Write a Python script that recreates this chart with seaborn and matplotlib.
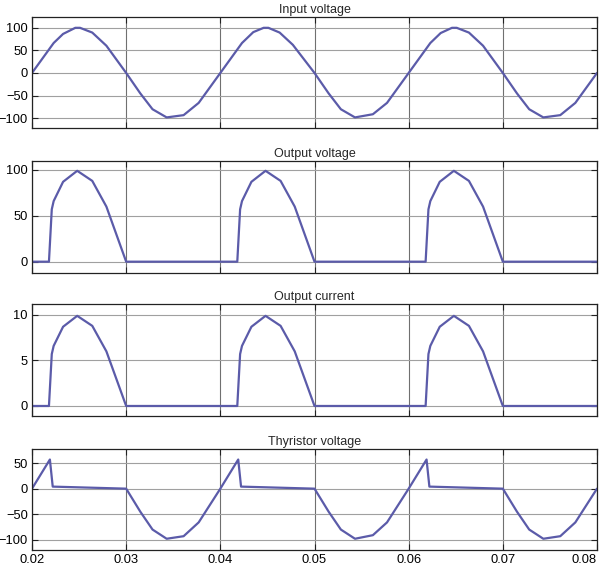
import numpy as np
import pandas as pd
import matplotlib
matplotlib.use("Agg")
import matplotlib.pyplot as plt
import matplotlib.transforms as mtransforms
import seaborn as sns

# ---------------- data ----------------
vin_t = [0.0200, 0.0223, 0.0233, 0.0246, 0.0251, 0.0264, 0.0279, 0.0300,
         0.0315, 0.0328, 0.0343, 0.0361, 0.0377, 0.0400,
         0.0423, 0.0435, 0.0446, 0.0451, 0.0463, 0.0477, 0.0500,
         0.0515, 0.0528, 0.0543, 0.0562, 0.0577, 0.0600,
         0.0623, 0.0634, 0.0646, 0.0651, 0.0664, 0.0679, 0.0700,
         0.0715, 0.0728, 0.0743, 0.0761, 0.0777, 0.0800]
vin_v = [0, 66, 86, 99.5, 99.5, 89, 60, 0,
         -45, -80, -98, -93, -66, 0,
         66, 90, 99.5, 99.5, 89, 62, 0,
         -45, -80, -98, -91, -66, 0,
         66, 88, 99.5, 99.5, 89, 60, 0,
         -45, -80, -98, -93, -66, 0]

vout_t = [0.0200, 0.0218, 0.0221, 0.0223, 0.0233, 0.0248, 0.0264, 0.0279, 0.0300,
          0.0418, 0.0421, 0.0423, 0.0433, 0.0448, 0.0464, 0.0479, 0.0500,
          0.0618, 0.0621, 0.0623, 0.0633, 0.0648, 0.0664, 0.0679, 0.0700,
          0.0800]
vout_v = [0, 0, 57, 66, 87, 99, 88, 60, 0,
          0, 57, 66, 87, 99, 88, 60, 0,
          0, 57, 66, 87, 99, 88, 60, 0,
          0]

iout_t = vout_t
iout_v = [0, 0, 5.7, 6.6, 8.7, 9.9, 8.8, 6.0, 0,
          0, 5.7, 6.6, 8.7, 9.9, 8.8, 6.0, 0,
          0, 5.7, 6.6, 8.7, 9.9, 8.8, 6.0, 0,
          0]

vth_t = [0.0200, 0.0219, 0.0222, 0.0300,
         0.0315, 0.0328, 0.0343, 0.0361, 0.0377, 0.0400,
         0.0419, 0.0422, 0.0500,
         0.0515, 0.0528, 0.0543, 0.0562, 0.0577, 0.0600,
         0.0619, 0.0622, 0.0700,
         0.0715, 0.0728, 0.0743, 0.0761, 0.0777, 0.0800]
vth_v = [0, 57, 4, 0,
         -45, -80, -98, -93, -66, 0,
         57, 4, 0,
         -45, -80, -98, -91, -66, 0,
         57, 4, 0,
         -45, -80, -98, -93, -66, 0]

titles = ["Input voltage", "Output voltage", "Output current", "Thyristor voltage"]
x_ticks = [0.02, 0.03, 0.04, 0.05, 0.06, 0.07, 0.08]
x_labels = ["0.02", "0.03", "0.04", "0.05", "0.06", "0.07", "0.08"]
y_ticks = [[-100, -50, 0, 50, 100], [0, 50, 100], [0, 5, 10], [-100, -50, 0, 50]]

# ---------------- figure ----------------
sns.set_style("white")
plt.rcParams["font.family"] = ["Liberation Sans", "DejaVu Sans"]
plt.rcParams["axes.unicode_minus"] = True

W, H = 605, 566
fig = plt.figure(figsize=(W / 100, H / 100), dpi=100)

left = 32 / W
width = (597 - 32) / W
panels = [(16.7, 128.3), (160.7, 272.7), (304.0, 416.0), (449.3, 550.0)]
ylims = [(-122, 124), (-12, 110), (-1.1, 11.2), (-120, 77)]
series = [(vin_t, vin_v), (vout_t, vout_v), (iout_t, iout_v), (vth_t, vth_v)]
color = "#5b5ba9"

for i, ((top, bot), (ts, vs)) in enumerate(zip(panels, series)):
    ax = fig.add_axes([left, 1 - bot / H, width, (bot - top) / H])
    df = pd.DataFrame({"t": ts, "v": vs})
    sns.lineplot(data=df, x="t", y="v", ax=ax, sort=False, estimator=None,
                 color=color, linewidth=1.6)
    ax.set_xlim(0.02, 0.08)
    ax.set_ylim(*ylims[i])
    ax.set_xticks(x_ticks)
    ax.set_yticks(y_ticks[i])
    ax.set_yticklabels([str(v).replace("-", "\u2212") for v in y_ticks[i]])
    if i == 3:
        ax.set_xticklabels(x_labels)
        last = ax.get_xticklabels()[-1]
        last.set_horizontalalignment("right")
        last.set_transform(last.get_transform() +
                           mtransforms.ScaledTranslation(6 / 100, 0, fig.dpi_scale_trans))
    else:
        ax.set_xticklabels([])
    ax.set_xlabel("")
    ax.set_ylabel("")
    ax.set_title(titles[i], fontsize=9, pad=3)
    ax.xaxis.grid(True, color="#707070", linewidth=0.8)
    ax.yaxis.grid(True, color="#a0a0a0", linewidth=0.8)
    ax.set_axisbelow(True)
    ax.tick_params(direction="in", length=4, width=0.8, labelsize=9.3,
                   top=True, right=True, bottom=True, left=True,
                   colors="#222222", labelcolor="black")
    ax.tick_params(axis="y", pad=3)
    ax.tick_params(axis="x", pad=3)
    for sp in ax.spines.values():
        sp.set_color("#222222")
        sp.set_linewidth(0.9)

fig.savefig("out.png", dpi=100)
